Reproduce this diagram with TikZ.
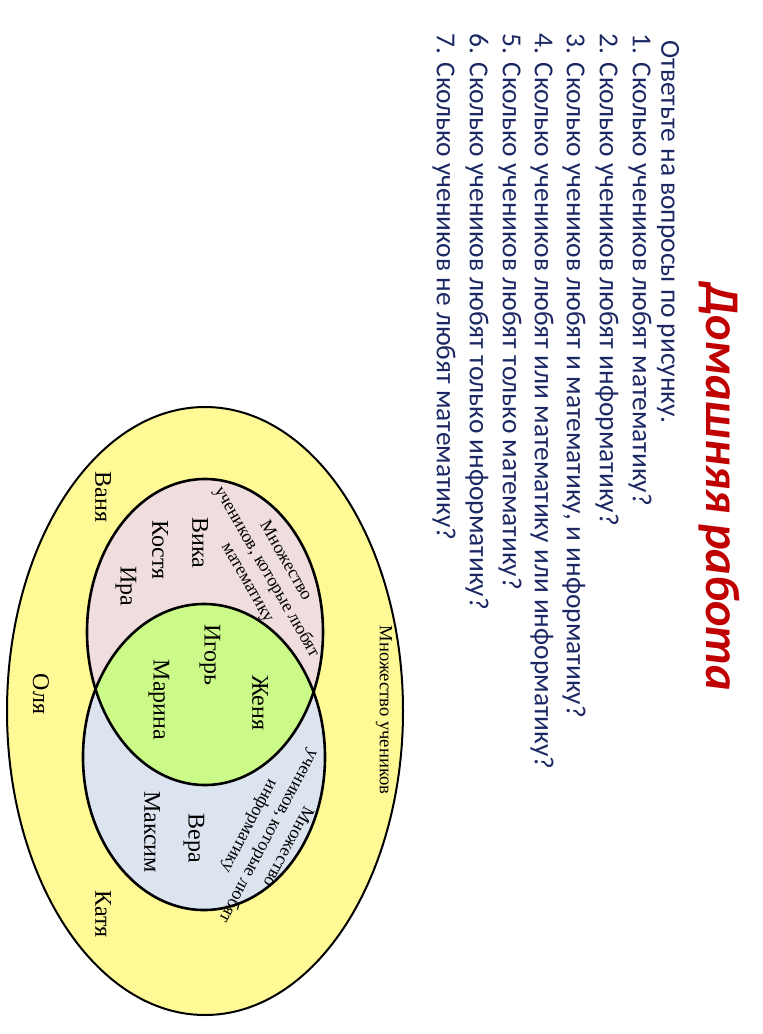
\documentclass[tikz,border=0pt]{standalone}
\usepackage{fontspec}
\setmainfont{Liberation Serif}
\newfontfamily\slidefont{Carlito}

\definecolor{setyellow}{RGB}{255,250,150}
\definecolor{mathpink}{RGB}{240,222,222}
\definecolor{infoblue}{RGB}{220,228,240}
\definecolor{bothgreen}{RGB}{204,250,136}
\definecolor{titlered}{RGB}{192,0,0}
\definecolor{qblue}{RGB}{28,40,100}

\tikzset{
	pupil/.style={font=\fontsize{12}{14}\selectfont, rotate=-90, inner sep=1pt},
	setlabel/.style={font=\fontsize{9}{11}\selectfont, align=center, inner sep=0pt},
	question/.style={font=\slidefont\fontsize{13.7}{16}\selectfont, text=qblue, rotate=-90, anchor=west, inner sep=0pt},
	rim/.style={line width=1.3pt},
}

\begin{document}
\begin{tikzpicture}[x=0.5pt, y=-0.5pt]
		\useasboundingbox (0,0) rectangle (763,1034);
		
		% title and questions
		\node[font=\slidefont\bfseries\itshape\fontsize{24.2}{28}\selectfont, text=titlered, rotate=-90, inner sep=0pt] (title) at (719,487) {Домашняя работа};
		
		\node[question] (q0) at (668,40) {Ответьте на вопросы по рисунку.};
		\node[question] (q1) at (640,33) {1. Сколько учеников любят математику?};
		\node[question] (q2) at (607,33) {2. Сколько учеников любят информатику?};
		\node[question] (q3) at (574,33) {3. Сколько учеников любят и математику, и информатику?};
		\node[question] (q4) at (542,33) {4. Сколько учеников любят или математику или информатику?};
		\node[question] (q5) at (510,33) {5. Сколько учеников любят только математику?};
		\node[question] (q6) at (477,33) {6. Сколько учеников любят только информатику?};
		\node[question] (q7) at (444,33) {7. Сколько учеников не любят математику?};
		
		% the sets
		\draw[line width=1pt, fill=setyellow] (205,711) ellipse [x radius=198, y radius=304];
		\fill[mathpink] (205,632) ellipse [x radius=118, y radius=153];
		\fill[infoblue] (204,757) ellipse [x radius=121, y radius=153];
		\begin{scope}
			\clip (205,632) ellipse [x radius=118, y radius=153];
			\fill[bothgreen] (204,757) ellipse [x radius=121, y radius=153];
		\end{scope}
		\draw[rim] (205,632) ellipse [x radius=118, y radius=153];
		\draw[rim] (204,757) ellipse [x radius=121, y radius=153];
		
		% set names
		\node[font=\fontsize{9.3}{11}\selectfont, rotate=-90] (all) at (384,710) {Множество учеников};
		\node[setlabel, rotate=-60] (math) at (266,572) {Множество\\учеников, которые любят\\математику};
		\node[setlabel, rotate=-118] (info) at (268,836) {Множество\\учеников, которые любят\\информатику};
		
		% pupils
		\node[pupil] (vika) at (200,543) {Вика};
		\node[pupil] (kostya) at (160,550) {Костя};
		\node[pupil] (ira) at (126,586) {Ира};
		\node[pupil] (igor) at (210,655) {Игорь};
		\node[pupil] (zhenya) at (260,703) {Женя};
		\node[pupil] (marina) at (159,700) {Марина};
		\node[pupil] (vera) at (194,838) {Вера};
		\node[pupil] (maksim) at (152,832) {Максим};
		\node[pupil] (vanya) at (103,497) {Ваня};
		\node[pupil] (katya) at (103,914) {Катя};
		\node[pupil] (olya) at (41,694) {Оля};
\end{tikzpicture}
\end{document}
